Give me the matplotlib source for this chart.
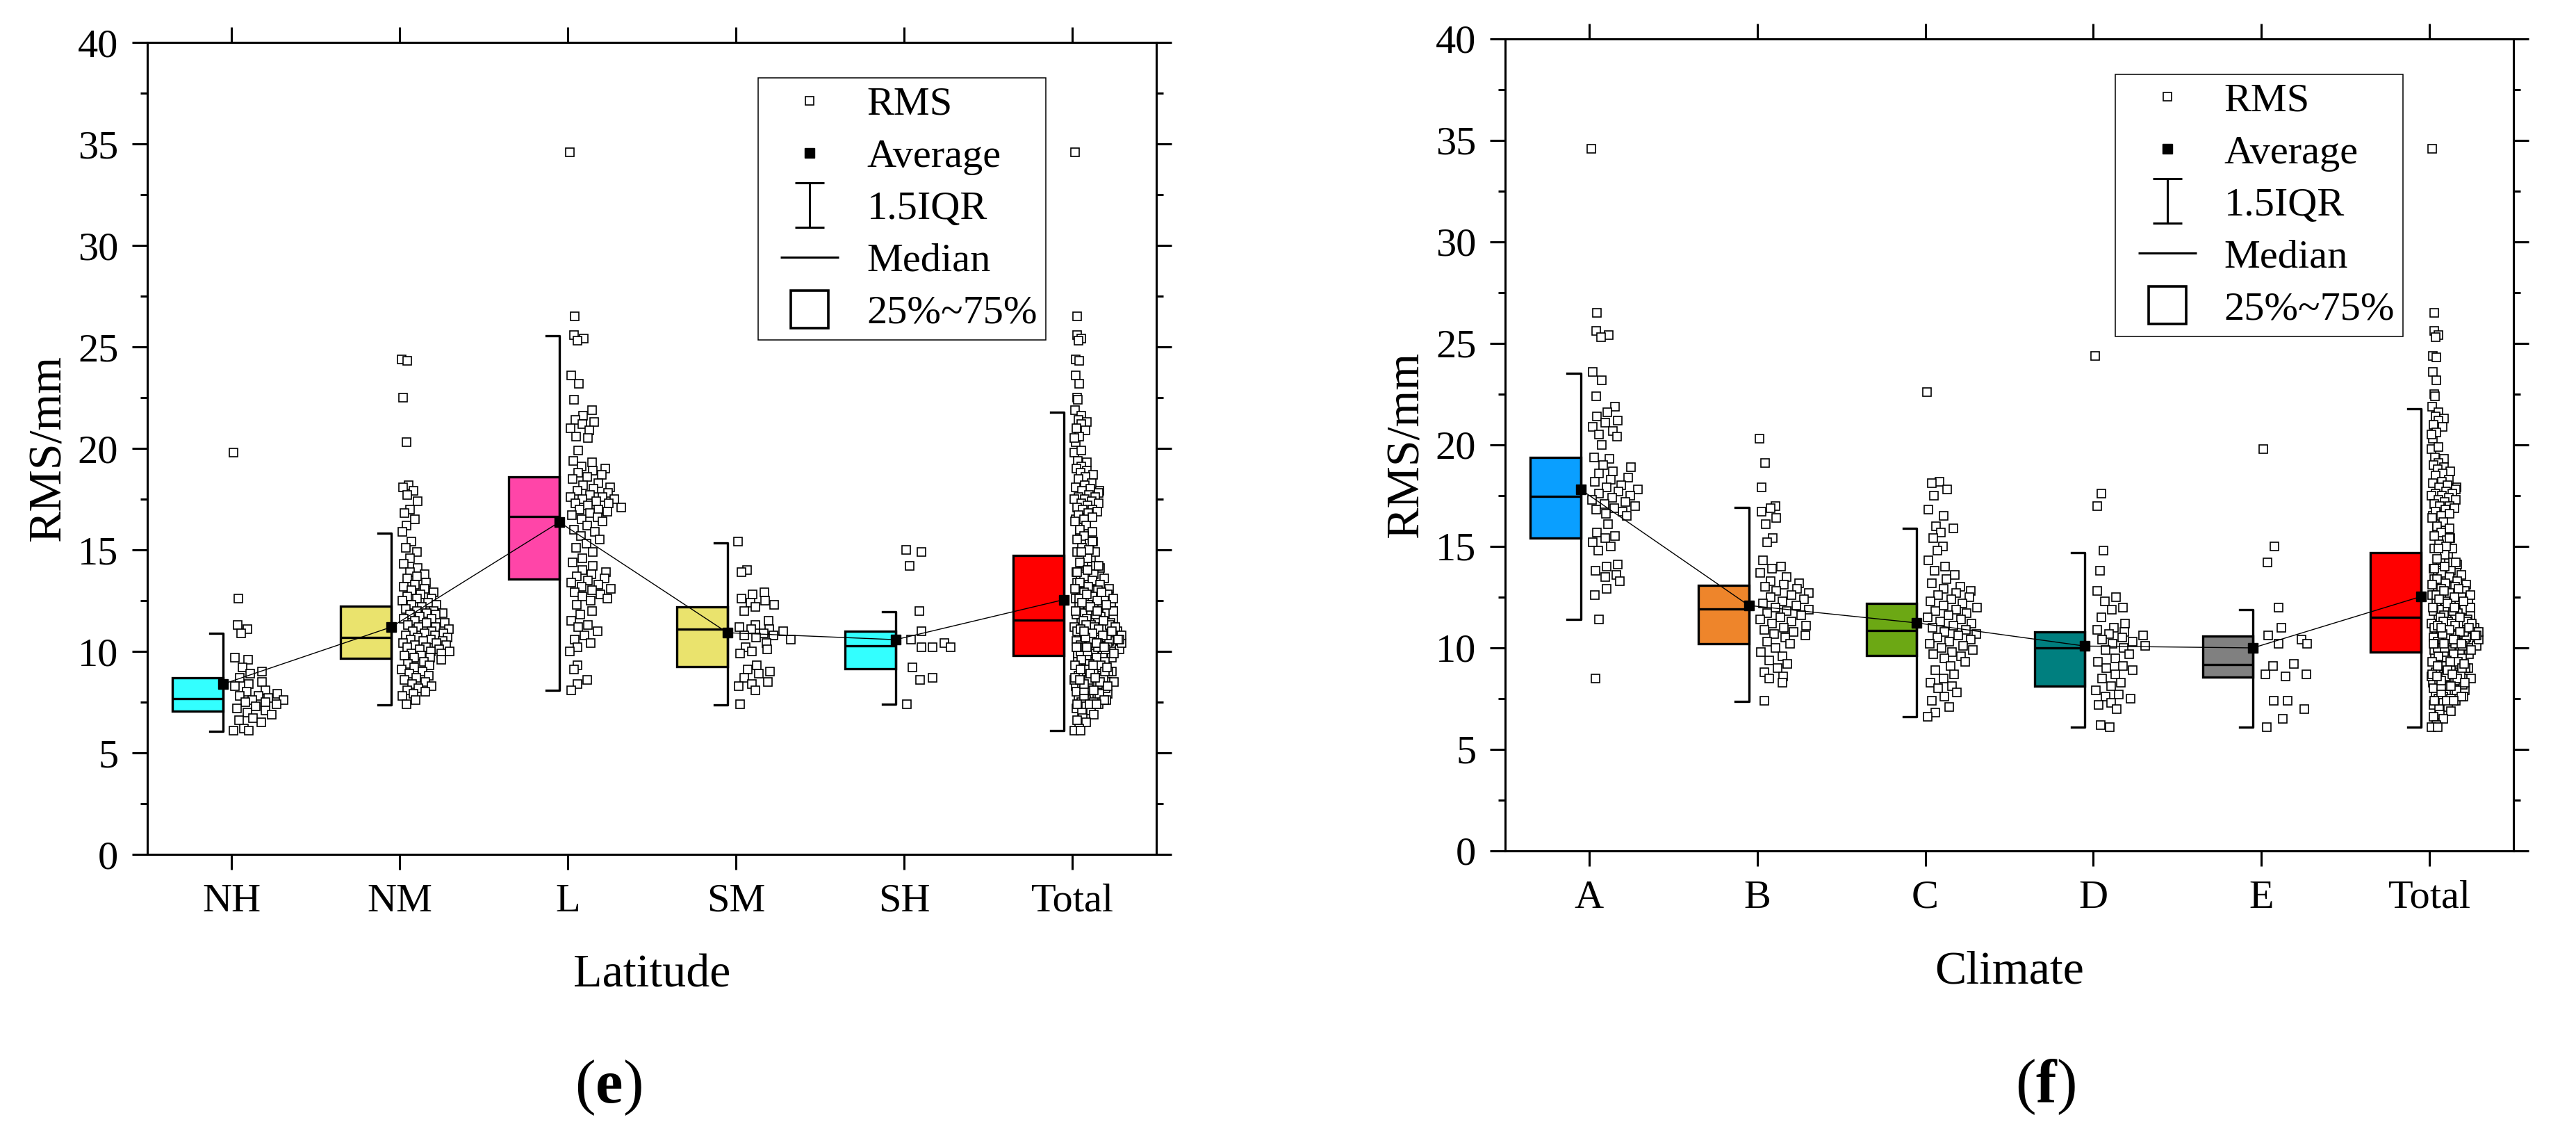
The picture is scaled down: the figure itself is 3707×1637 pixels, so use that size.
import numpy as np
import matplotlib
matplotlib.use("Agg")
from matplotlib import pyplot as plt
from matplotlib.lines import Line2D
from matplotlib.path import Path
from matplotlib.ticker import MultipleLocator

plt.rcParams["font.family"] = "Liberation Serif"
plt.rcParams["mathtext.fontset"] = "custom"
plt.rcParams["mathtext.rm"] = "Liberation Serif"
plt.rcParams["mathtext.bf"] = "Liberation Serif:bold"

# ---- data: latitude groups (panel e) ----
lat_names = ["NH", "NM", "L", "SM", "SH", "Total"]
lat_colors = ["#33FFFF", "#EAE36D", "#FF45A8", "#EAE36D", "#33FFFF", "#FF0000"]

nh = [19.8, 12.6, 11.3, 11.1, 10.9, 9.7, 9.6, 9.2, 9.0, 8.9, 8.7, 8.5, 8.4, 8.3,
      8.1, 8.0, 7.9, 7.8, 7.8, 7.7, 7.6, 7.6, 7.5, 7.5, 7.4, 7.3, 7.2, 7.1, 7.0,
      6.9, 6.7, 6.6, 6.5, 6.2, 6.1, 6.1]
nm = [24.4, 24.3, 22.5, 20.3, 18.2, 18.1, 17.9, 17.7, 17.4, 17.0, 16.8, 16.5,
      16.2, 15.9, 15.4, 15.1, 14.9, 14.6, 14.3, 14.1, 13.9, 13.8, 13.7, 13.6,
      13.4, 13.3, 13.2, 13.1, 13.0, 12.9, 12.8, 12.7, 12.6, 12.6, 12.5, 12.4,
      12.3, 12.3, 12.2, 12.1, 12.0, 12.0, 11.9, 11.9, 11.8, 11.8, 11.7, 11.6,
      11.6, 11.5, 11.4, 11.4, 11.3, 11.2, 11.2, 11.1, 11.0, 11.0, 10.9, 10.9,
      10.8, 10.8, 10.7, 10.7, 10.6, 10.6, 10.5, 10.5, 10.4, 10.4, 10.3, 10.3,
      10.2, 10.2, 10.1, 10.1, 10.0, 10.0, 9.9, 9.9, 9.8, 9.8, 9.7, 9.7, 9.6,
      9.5, 9.4, 9.3, 9.2, 9.1, 9.0, 8.9, 8.8, 8.7, 8.6, 8.5, 8.4, 8.3, 8.2,
      8.1, 8.0, 7.9, 7.8, 7.6, 7.4]
lo = [34.6, 26.5, 25.6, 25.4, 25.3, 23.6, 23.2, 22.4, 21.9, 21.6, 21.4, 21.3,
      21.2, 21.0, 20.9, 20.6, 20.5, 19.9, 19.4, 19.3, 19.1, 19.0, 18.9, 18.8,
      18.7, 18.6, 18.5, 18.3, 18.2, 18.1, 18.0, 17.9, 17.8, 17.7, 17.6, 17.6,
      17.5, 17.5, 17.4, 17.3, 17.3, 17.2, 17.1, 17.0, 17.0, 16.9, 16.8, 16.7,
      16.6, 16.5, 16.4, 16.2, 16.0, 15.9, 15.7, 15.5, 15.3, 15.1, 14.9, 14.6,
      14.4, 14.2, 14.0, 13.9, 13.8, 13.7, 13.6, 13.5, 13.4, 13.3, 13.2, 13.1,
      13.0, 12.9, 12.8, 12.7, 12.6, 12.5, 12.3, 12.0, 11.8, 11.5, 11.3, 11.2,
      11.0, 10.8, 10.6, 10.4, 10.2, 10.0, 9.3, 9.1, 8.6, 8.4, 8.1]
sm = [15.4, 14.0, 13.9, 12.9, 12.8, 12.6, 12.5, 12.4, 12.3, 12.2, 12.0, 11.5,
      11.3, 11.2, 11.1, 11.1, 11.0, 10.9, 10.8, 10.8, 10.7, 10.6, 10.4, 10.2,
      10.1, 10.0, 9.9, 9.3, 9.1, 9.0, 8.9, 8.7, 8.5, 8.4, 8.3, 8.1, 7.4]
sh = [15.0, 14.9, 14.2, 12.0, 11.0, 10.6, 10.4, 10.2, 10.2, 10.2, 9.2, 8.7,
      8.6, 7.4]
total = nh + nm + lo + sm + sh

lat_q1 = [7.05, 9.66, 13.56, 9.25, 9.15, 9.80]
lat_med = [7.67, 10.68, 16.64, 11.10, 10.26, 11.54]
lat_q3 = [8.70, 12.23, 18.60, 12.19, 11.00, 14.72]
lat_mean = [8.39, 11.20, 16.37, 10.92, 10.58, 12.55]
lat_wlo = [6.06, 7.36, 8.08, 7.36, 7.41, 6.10]
lat_whi = [10.89, 15.82, 25.55, 15.34, 11.94, 21.78]

# ---- data: climate groups (panel f) ----
clim_names = ["A", "B", "C", "D", "E", "Total"]
clim_colors = ["#0A9FFF", "#EE852B", "#6CA814", "#007F7F", "#808080", "#FF0000"]

ca = [34.6, 26.5, 25.6, 25.4, 25.3, 23.6, 23.2, 22.4, 21.9, 21.6, 21.4, 21.2,
      21.1, 20.9, 20.7, 20.5, 20.4, 20.0, 19.4, 19.3, 19.0, 18.9, 18.7, 18.6,
      18.4, 18.3, 18.2, 18.0, 17.9, 17.8, 17.7, 17.6, 17.5, 17.4, 17.3, 17.2,
      17.1, 17.0, 16.9, 16.8, 16.7, 16.6, 16.5, 16.1, 15.7, 15.5, 15.4, 15.2,
      15.0, 14.8, 14.1, 14.0, 13.8, 13.6, 13.5, 13.3, 12.9, 12.6, 11.4, 8.5]
cb = [20.3, 19.1, 17.9, 17.0, 16.9, 16.7, 16.4, 16.1, 15.4, 15.2, 14.3, 14.0,
      13.9, 13.7, 13.5, 13.3, 13.2, 13.1, 13.0, 12.9, 12.8, 12.7, 12.6, 12.5,
      12.4, 12.3, 12.2, 12.1, 12.0, 11.9, 11.8, 11.7, 11.6, 11.5, 11.4, 11.3,
      11.2, 11.1, 11.0, 10.9, 10.8, 10.7, 10.6, 10.5, 10.3, 10.2, 10.0, 9.8,
      9.6, 9.4, 9.2, 9.0, 8.8, 8.6, 8.5, 8.3, 7.4]
cc = [22.6, 18.2, 18.1, 17.8, 17.5, 16.8, 16.5, 16.0, 15.9, 15.7, 15.4, 15.0,
      14.8, 14.3, 14.0, 13.8, 13.6, 13.4, 13.2, 13.0, 12.9, 12.8, 12.7, 12.6,
      12.5, 12.4, 12.3, 12.2, 12.1, 12.0, 11.9, 11.8, 11.7, 11.6, 11.5, 11.4,
      11.3, 11.2, 11.1, 11.0, 10.9, 10.8, 10.7, 10.6, 10.5, 10.4, 10.3, 10.2,
      10.1, 10.0, 9.9, 9.8, 9.7, 9.6, 9.5, 9.3, 9.1, 8.9, 8.7, 8.5, 8.3, 8.1,
      8.0, 7.8, 7.6, 7.4, 7.1, 6.8, 6.6]
cd = [24.4, 17.6, 17.0, 14.8, 13.8, 12.8, 12.5, 12.3, 12.0, 11.9, 11.5, 11.2,
      11.0, 10.9, 10.8, 10.7, 10.6, 10.5, 10.4, 10.3, 10.2, 10.1, 10.0, 9.9,
      9.7, 9.5, 9.3, 9.1, 9.0, 8.9, 8.7, 8.5, 8.3, 8.1, 7.9, 7.7, 7.6, 7.5,
      7.3, 7.2, 7.0, 6.2, 6.1]
ce = [19.8, 15.0, 14.2, 12.0, 11.0, 10.6, 10.4, 10.2, 10.2, 9.2, 9.1, 8.7,
      8.6, 8.7, 7.4, 7.4, 7.0, 6.5, 6.1]

clim_q1 = [15.41, 10.20, 9.62, 8.13, 8.56, 9.78]
clim_med = [17.47, 11.92, 10.86, 10.00, 9.17, 11.52]
clim_q3 = [19.38, 13.08, 12.20, 10.79, 10.58, 14.70]
clim_mean = [17.80, 12.09, 11.23, 10.09, 10.00, 12.53]
clim_wlo = [11.40, 7.36, 6.61, 6.09, 6.09, 6.09]
clim_whi = [23.54, 16.92, 15.89, 14.70, 11.89, 21.78]


def jitter(vals):
    # spread points sideways according to how crowded they are
    v = np.asarray(vals)
    dens = np.array([np.sum(np.abs(v - y) < 0.6) for y in v])
    width = 0.32 * (dens / dens.max()) ** 0.7
    u = (np.arange(len(v)) * 0.618034) % 1.0
    return 0.012 + width * u


ibar = Path([(-0.33, 0.5), (0.33, 0.5), (0, 0.5), (0, -0.5), (-0.33, -0.5), (0.33, -0.5)],
            [Path.MOVETO, Path.LINETO, Path.MOVETO, Path.LINETO, Path.MOVETO, Path.LINETO])


def draw_panel(ax, names, groups, colors, q1, med, q3, mean, wlo, whi, xlabel):
    pos = np.arange(len(names))
    q1 = np.array(q1)
    q3 = np.array(q3)
    ax.bar(pos - 0.2, q3 - q1, bottom=q1, width=0.3, color=colors,
           edgecolor="k", linewidth=2.4, zorder=2)
    ax.hlines(med, pos - 0.35, pos - 0.05, color="k", lw=2.4, zorder=3)
    for i in range(len(names)):
        ax.plot([pos[i] - 0.13, pos[i] - 0.05, pos[i] - 0.05, pos[i] - 0.13],
                [whi[i], whi[i], wlo[i], wlo[i]], color="k", lw=2.4, zorder=3)
        ax.plot(pos[i] + jitter(groups[i]), groups[i], ls="none", marker="s",
                ms=8.5, mfc="white", mec="k", mew=1.2, zorder=4)
    ax.plot(pos - 0.05, mean, color="k", lw=1.0, zorder=5)
    ax.plot(pos - 0.05, mean, ls="none", marker="s", ms=10, color="k", zorder=6)

    ax.set_xlim(-0.5, 5.5)
    ax.set_ylim(0, 40)
    ax.set_xticks(pos, names)
    ax.set_yticks(np.arange(0, 41, 5))
    ax.yaxis.set_minor_locator(MultipleLocator(2.5))
    ax.tick_params(which="both", direction="out", top=True, right=True,
                   labelsize=42, width=2.2, pad=14)
    ax.tick_params(which="major", length=16)
    ax.tick_params(which="minor", length=7.5)
    ax.tick_params(axis="x", which="minor", bottom=False, top=False)
    for s in ax.spines.values():
        s.set_linewidth(2.2)
    ax.set_ylabel("RMS/mm", fontsize=49, labelpad=8)
    ax.set_xlabel(xlabel, fontsize=49, labelpad=36)

    handles = [
        Line2D([], [], ls="none", marker="s", ms=8.5, mfc="white", mec="k", mew=1.2),
        Line2D([], [], ls="none", marker="s", ms=9.5, color="k"),
        Line2D([], [], ls="none", marker=ibar, ms=46, mfc="none", mec="k", mew=2.2),
        Line2D([], [], ls="none", marker="_", ms=60, mec="k", mew=2.2),
        Line2D([], [], ls="none", marker="s", ms=39, mfc="white", mec="k", mew=2.6),
    ]
    labels = ["RMS", "Average", "1.5IQR", "Median", "25%~75%"]
    leg = ax.legend(handles, labels, loc="upper left", bbox_to_anchor=(0.605, 0.956),
                    borderaxespad=0, borderpad=0.2, handlelength=2.17,
                    handletextpad=0.32, labelspacing=0.38, fontsize=42,
                    fancybox=False, edgecolor="k", numpoints=1, framealpha=1)
    leg.get_frame().set_linewidth(1.1)


fig = plt.figure(figsize=(37.07, 16.37), dpi=100)
ax1 = fig.add_axes([0.0572, 0.2492, 0.3917, 0.7135])
ax2 = fig.add_axes([0.5843, 0.2523, 0.3914, 0.7135])

draw_panel(ax1, lat_names, [nh, nm, lo, sm, sh, total], lat_colors,
           lat_q1, lat_med, lat_q3, lat_mean, lat_wlo, lat_whi, "Latitude")
draw_panel(ax2, clim_names, [ca, cb, cc, cd, ce, total], clim_colors,
           clim_q1, clim_med, clim_q3, clim_mean, clim_wlo, clim_whi, "Climate")

fig.text(875 / 3707, 1 - 1565 / 1637, r"($\mathbf{e}$)", ha="center", va="center", fontsize=64)
fig.text(2943 / 3707, 1 - 1564 / 1637, r"($\mathbf{f}$)", ha="center", va="center", fontsize=64)

fig.savefig("out.png", dpi=100)
